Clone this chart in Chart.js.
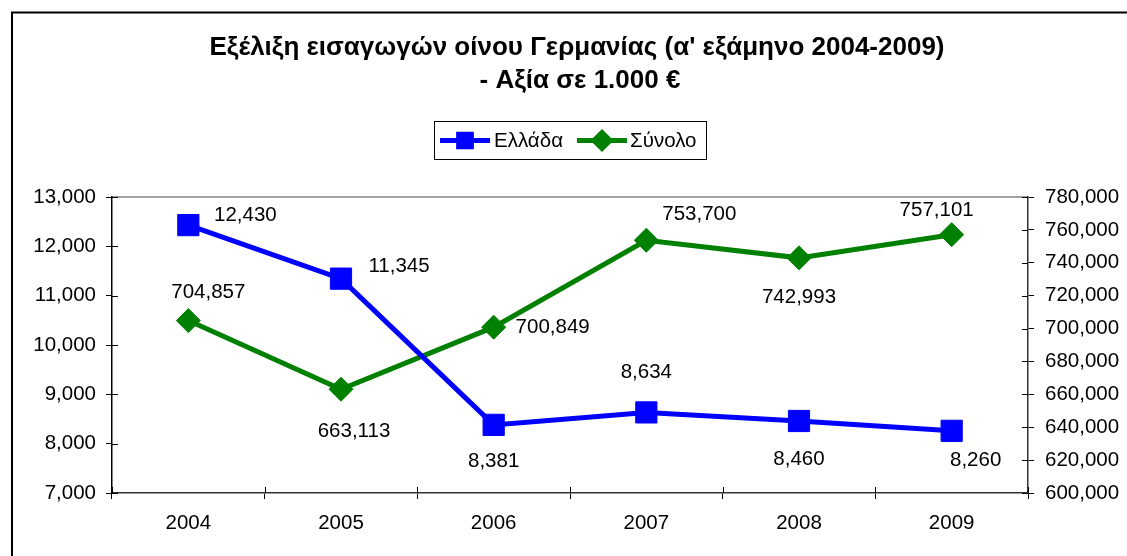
<!DOCTYPE html>
<html lang="el">
<head>
<meta charset="utf-8">
<title>Εξέλιξη εισαγωγών οίνου Γερμανίας</title>
<script src="https://cdn.jsdelivr.net/npm/chart.js@4.4.1/dist/chart.umd.min.js"></script>
<style>
    html, body { margin: 0; padding: 0; background: #fff; }
    .graph-container { position: relative; width: 1127px; height: 556px; }
</style>
</head>
<body>
<div class="graph-container"><canvas id="Graph" width="1127" height="556"></canvas></div>
<script>
// Datos
const years = ['2004', '2005', '2006', '2007', '2008', '2009'];
const elladaValues = [12430, 11345, 8381, 8634, 8460, 8260];
const synoloValues = [704857, 663113, 700849, 753700, 742993, 757101];
const leftTicks = { min: 7000, max: 13000, step: 1000 };
const rightTicks = { min: 600000, max: 780000, step: 20000 };

// Desplazamiento de las etiquetas de datos (px) respecto a cada punto
const elladaLabelOffsets = [[57, -10], [58, -12], [0, 36], [0, -40], [0, 38], [24, 30]];
const synoloLabelOffsets = [[20, -28], [13, 42], [59, 0], [53, -26], [0, 39], [-15, -24]];

const titleLines = ["Εξέλιξη εισαγωγών οίνου Γερμανίας (α' εξάμηνο 2004-2009)", '- Αξία σε 1.000 €'];

const FONT = '"Liberation Sans", Arial, sans-serif';
const LABEL_SIZE = 20.5;
const BLUE = '#0000FF';
const GREEN = '#008000';

function formatNumber(value) {
    return Number(value).toLocaleString('en-US');
}

// Marco, título, leyenda y detalles de ejes al estilo Excel
const decorPlugin = {
    id: 'decor',
    beforeDraw(chart) {
        const ctx = chart.ctx;
        const area = chart.chartArea;
        ctx.save();
        // marco exterior
        ctx.strokeStyle = '#000';
        ctx.lineWidth = 2;
        ctx.beginPath();
        ctx.moveTo(12, 556);
        ctx.lineTo(12, 12.5);
        ctx.lineTo(1127, 12.5);
        ctx.stroke();

        // título
        ctx.fillStyle = '#000';
        ctx.font = 'bold 26px ' + FONT;
        ctx.textAlign = 'center';
        ctx.textBaseline = 'middle';
        ctx.fillText(titleLines[0], 577, 48);
        ctx.fillText(titleLines[1], 580, 81);

        // leyenda
        ctx.lineWidth = 1;
        ctx.strokeStyle = '#000';
        ctx.strokeRect(434.5, 121.5, 272, 38);
        const items = [
            { x: 440, textX: 494, ds: chart.data.datasets[0], style: 'rect', radius: 9 },
            { x: 577, textX: 630, ds: chart.data.datasets[1], style: 'rectRot', radius: 8 }
        ];
        ctx.font = LABEL_SIZE + 'px ' + FONT;
        ctx.textAlign = 'left';
        items.forEach(function(item) {
            ctx.strokeStyle = item.ds.borderColor;
            ctx.fillStyle = item.ds.borderColor;
            ctx.lineWidth = 5;
            ctx.beginPath();
            ctx.moveTo(item.x, 140.5);
            ctx.lineTo(item.x + 50, 140.5);
            ctx.stroke();
            Chart.helpers.drawPoint(ctx, { pointStyle: item.style, radius: item.radius, borderWidth: 1, rotation: 0 }, item.x + 25, 140.5);
            ctx.fillStyle = '#000';
            ctx.fillText(item.ds.label, item.textX, 141);
        });

        // línea superior del área de trazado
        ctx.strokeStyle = '#808080';
        ctx.lineWidth = 1.5;
        ctx.beginPath();
        ctx.moveTo(area.left, area.top);
        ctx.lineTo(area.right, area.top);
        ctx.stroke();
        ctx.restore();
    },
    beforeDatasetsDraw(chart) {
        // parte interior de las marcas de los ejes (cruzan el eje)
        const ctx = chart.ctx;
        const area = chart.chartArea;
        ctx.save();
        ctx.strokeStyle = '#000';
        ctx.lineWidth = 1;
        ctx.beginPath();
        const y = chart.scales.y;
        y.ticks.forEach(function(t, i) {
            const py = Math.round(y.getPixelForTick(i)) + 0.5;
            ctx.moveTo(area.left, py);
            ctx.lineTo(area.left + 6, py);
        });
        const y1 = chart.scales.y1;
        y1.ticks.forEach(function(t, i) {
            const py = Math.round(y1.getPixelForTick(i)) + 0.5;
            ctx.moveTo(area.right - 6, py);
            ctx.lineTo(area.right, py);
        });
        const step = (area.right - area.left) / years.length;
        for (let i = 0; i <= years.length; i++) {
            const px = Math.round(area.left + i * step) + 0.5;
            ctx.moveTo(px, area.bottom);
            ctx.lineTo(px, area.bottom - 6);
        }
        ctx.stroke();
        ctx.restore();
    },
    afterDatasetsDraw(chart) {
        // etiquetas de datos
        const ctx = chart.ctx;
        const offsets = [elladaLabelOffsets, synoloLabelOffsets];
        ctx.save();
        ctx.font = LABEL_SIZE + 'px ' + FONT;
        ctx.fillStyle = '#000';
        ctx.textAlign = 'center';
        ctx.textBaseline = 'middle';
        chart.data.datasets.forEach(function(ds, di) {
            const meta = chart.getDatasetMeta(di);
            meta.data.forEach(function(pt, i) {
                const off = offsets[di][i];
                ctx.fillText(formatNumber(ds.data[i]), pt.x + off[0], pt.y + off[1]);
            });
        });
        ctx.restore();
    }
};

document.addEventListener('DOMContentLoaded', function() {
    const canvas = document.getElementById('Graph');

    new Chart(canvas, {
        type: 'line',
        data: {
            labels: years,
            datasets: [{
                label: 'Ελλάδα',
                data: elladaValues,
                yAxisID: 'y',
                borderColor: BLUE,
                backgroundColor: BLUE,
                borderWidth: 5,
                pointStyle: 'rect',
                pointRadius: 15,
                pointBorderWidth: 1,
                tension: 0
            }, {
                label: 'Σύνολο',
                data: synoloValues,
                yAxisID: 'y1',
                borderColor: GREEN,
                backgroundColor: GREEN,
                borderWidth: 5,
                pointStyle: 'rectRot',
                pointRadius: 12,
                pointBorderWidth: 1,
                tension: 0
            }]
        },
        options: {
            responsive: false,
            animation: false,
            layout: { padding: { top: 197, left: 0, right: 0, bottom: 0 } },
            plugins: {
                legend: { display: false },
                title: { display: false },
                tooltip: { enabled: false }
            },
            scales: {
                x: {
                    offset: true,
                    grid: { display: true, offset: true, drawOnChartArea: false, tickLength: 6, color: '#000', lineWidth: 1 },
                    border: { color: '#333', width: 1.5 },
                    ticks: { color: '#000', font: { family: FONT, size: LABEL_SIZE }, padding: 12, maxRotation: 0 },
                    afterFit: function(scale) { scale.height = 63; }
                },
                y: {
                    position: 'left',
                    min: leftTicks.min,
                    max: leftTicks.max,
                    grid: { display: true, drawOnChartArea: false, tickLength: 6, color: '#000' },
                    border: { color: '#000', width: 1.5 },
                    ticks: {
                        stepSize: leftTicks.step,
                        color: '#000',
                        font: { family: FONT, size: LABEL_SIZE },
                        padding: 10,
                        callback: formatNumber
                    },
                    afterFit: function(scale) { scale.width = 112; }
                },
                y1: {
                    position: 'right',
                    min: rightTicks.min,
                    max: rightTicks.max,
                    grid: { display: true, drawOnChartArea: false, tickLength: 6, color: '#000' },
                    border: { color: '#333', width: 1.5 },
                    ticks: {
                        stepSize: rightTicks.step,
                        color: '#000',
                        font: { family: FONT, size: LABEL_SIZE },
                        padding: 11,
                        callback: formatNumber
                    },
                    afterFit: function(scale) { scale.width = 99; }
                }
            }
        },
        plugins: [decorPlugin]
    });
});
</script>
</body>
</html>
